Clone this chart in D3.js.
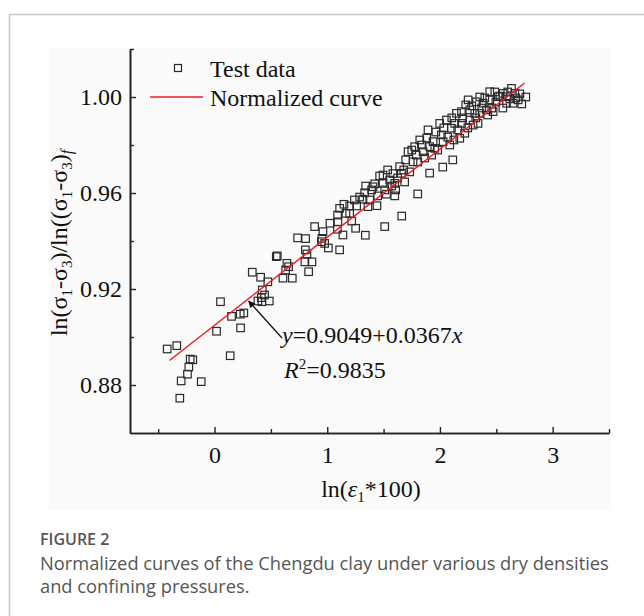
<!DOCTYPE html>
<html>
<head>
<meta charset="utf-8">
<script src="https://cdn.jsdelivr.net/npm/d3@7"></script>
<style>
  html, body { margin: 0; padding: 0; background: #fff; }
  svg { display: block; }
</style>
</head>
<body>
<svg id="fig" width="644" height="616"></svg>
<script>
// Test data: ln(eps1*100) vs normalised ln deviator stress
const xValues = [
  -0.420,-0.335,-0.216,-0.193,-0.228,-0.240,-0.296,-0.118,-0.308,0.139,
  0.018,0.053,0.151,0.228,0.260,0.231,0.335,0.409,0.473,0.424,
  0.415,0.420,0.385,0.486,0.444,0.548,0.607,0.557,0.642,0.657,
  0.631,0.690,0.737,0.808,0.806,0.820,0.802,0.864,0.835,0.888,
  0.962,0.953,0.948,0.977,1.010,1.024,1.110,1.090,1.095,1.092,
  1.110,1.139,1.166,1.199,1.217,1.252,1.338,1.148,1.241,1.317,
  1.332,1.377,1.361,1.441,1.406,1.421,1.495,1.510,1.525,1.510,
  1.583,1.599,1.607,1.661,1.495,1.554,1.643,1.658,1.717,1.776,
  1.791,1.761,1.836,1.850,1.909,1.894,1.939,1.954,1.998,2.013,
  2.028,2.087,2.058,2.102,2.131,2.147,2.191,2.191,2.220,2.176,
  2.265,2.265,2.309,2.294,2.353,2.338,2.250,2.324,2.383,2.413,
  2.442,2.472,2.442,2.516,2.560,2.591,2.635,2.664,2.591,2.649,
  2.694,1.803,1.909,2.025,2.114,
  1.465,1.536,1.572,1.625,1.679,1.696,1.732,1.750,1.803,1.821,
  1.865,1.883,1.927,1.963,1.980,2.034,2.069,2.105,2.123,2.158,
  2.202,2.229,2.247,2.282,2.318,2.371,2.398,2.424,2.460,2.496,
  2.531,2.558,2.602,2.620,2.673,2.709,2.726,2.762,2.353,2.487,
  1.687,1.599,1.394,1.448,1.341,1.288,1.261,1.199
];
const yValues = [
  0.8950,0.8964,0.8908,0.8905,0.8875,0.8845,0.8817,0.8814,0.8745,0.8922,
  0.9024,0.9147,0.9086,0.9095,0.9100,0.9038,0.9270,0.9249,0.9230,0.9196,
  0.9164,0.9147,0.9150,0.9150,0.9175,0.9335,0.9245,0.9338,0.9307,0.9293,
  0.9279,0.9245,0.9413,0.9410,0.9363,0.9346,0.9313,0.9313,0.9272,0.9460,
  0.9439,0.9411,0.9397,0.9390,0.9371,0.9474,0.9363,0.9449,0.9480,0.9508,
  0.9536,0.9425,0.9515,0.9515,0.9483,0.9453,0.9424,0.9553,0.9571,0.9574,
  0.9601,0.9571,0.9543,0.9547,0.9626,0.9638,0.9640,0.9613,0.9595,0.9460,
  0.9681,0.9640,0.9613,0.9504,0.9675,0.9654,0.9710,0.9682,0.9772,0.9793,
  0.9758,0.9730,0.9800,0.9772,0.9793,0.9863,0.9814,0.9786,0.9890,0.9842,
  0.9814,0.9800,0.9904,0.9870,0.9890,0.9932,0.9939,0.9890,0.9849,0.9828,
  0.9946,0.9904,0.9932,0.9883,0.9932,0.9890,0.9988,0.9980,0.9974,0.9946,
  0.9988,0.9939,1.0022,1.0001,1.0015,1.0001,1.0036,1.0015,0.9974,0.9974,
  0.9988,0.9596,0.9683,0.9708,0.9738,
  0.9671,0.9696,0.9629,0.9663,0.9696,0.9738,0.9688,0.9779,0.9729,0.9821,
  0.9746,0.9829,0.9758,0.9854,0.9779,0.9871,0.9833,0.9913,0.9821,0.9863,
  0.9913,0.9967,0.9871,0.9963,0.9913,0.9954,0.9996,0.9925,0.9954,0.9979,
  1.0004,0.9954,1.0021,0.9992,0.9996,1.0013,0.9971,1.0000,1.0000,1.0021,
  0.9646,0.9588,0.9613,0.9588,0.9629,0.9583,0.9546,0.9546
];

// Fitted normalised curve y = a + b x, drawn over this x-range
const fitIntercept = 0.9049;
const fitSlope = 0.0367;
const fitRange = [-0.40, 2.75];

const xMajorTicks = [0, 1, 2, 3];
const xMinorTicks = [-0.5, 0.5, 1.5, 2.5, 3.5];
const yMajorTicks = [0.88, 0.92, 0.96, 1.00];
const yMinorTicks = [0.90, 0.94, 0.98, 1.02];

const svg = d3.select("#fig");
const serif = "'Liberation Serif', 'Times New Roman', serif";
const sans = "'Open Sans', 'Noto Sans', sans-serif";
const fs = "24px";
const fsSub = "15px";

// card frame
svg.append("line").attr("x1", 9).attr("x2", 644).attr("y1", 14.5).attr("y2", 14.5)
  .attr("stroke", "#c8c8c8").attr("stroke-width", 1.5);
svg.append("line").attr("x1", 9.5).attr("x2", 9.5).attr("y1", 14).attr("y2", 616)
  .attr("stroke", "#c8c8c8").attr("stroke-width", 1.5);

// figure panel background
svg.append("rect").attr("x", 49).attr("y", 48).attr("width", 562).attr("height", 462)
  .attr("fill", "#fafafa");

const x = d3.scaleLinear().domain([-0.75, 3.5]).range([130, 609]);
const y = d3.scaleLinear().domain([0.86, 1.02]).range([433, 49]);

const axisColor = "#222";

function styleAxis(g) {
  g.selectAll("path.domain").attr("stroke", axisColor).attr("stroke-width", 1.6);
  g.selectAll(".tick line").attr("stroke", axisColor).attr("stroke-width", 1.4);
  g.selectAll(".tick text").attr("fill", "#111")
    .style("font-family", serif).style("font-size", fs);
}

// x axis
const gx = svg.append("g").attr("transform", `translate(0,${y(0.86)})`)
  .call(d3.axisBottom(x).tickValues(xMajorTicks).tickFormat(d3.format("d"))
    .tickSizeInner(-6).tickSizeOuter(0).tickPadding(13));
styleAxis(gx);
gx.selectAll(".tick text").attr("dy", "0.71em");
const gxm = svg.append("g").attr("transform", `translate(0,${y(0.86)})`)
  .call(d3.axisBottom(x).tickValues(xMinorTicks).tickFormat("")
    .tickSizeInner(-4).tickSizeOuter(0));
styleAxis(gxm);

// y axis
const gy = svg.append("g").attr("transform", `translate(${x(-0.75)},0)`)
  .call(d3.axisLeft(y).tickValues(yMajorTicks).tickFormat(d3.format(".2f"))
    .tickSizeInner(-6).tickSizeOuter(0).tickPadding(8));
styleAxis(gy);
const gym = svg.append("g").attr("transform", `translate(${x(-0.75)},0)`)
  .call(d3.axisLeft(y).tickValues(yMinorTicks).tickFormat("")
    .tickSizeInner(-4).tickSizeOuter(0));
styleAxis(gym);

// axis titles
const xt = svg.append("text").attr("x", 371).attr("y", 497)
  .attr("text-anchor", "middle").attr("fill", "#111")
  .style("font-family", serif).style("font-size", fs);
xt.append("tspan").text("ln(");
xt.append("tspan").style("font-style", "italic").text("ε");
xt.append("tspan").attr("dy", 5).style("font-size", fsSub).text("1");
xt.append("tspan").attr("dy", -5).text("*100)");

const yt = svg.append("text")
  .attr("transform", "translate(67,243) rotate(-90)")
  .attr("text-anchor", "middle").attr("fill", "#111")
  .style("font-family", serif).style("font-size", fs);
yt.append("tspan").text("ln(σ");
yt.append("tspan").attr("dy", 5).style("font-size", fsSub).text("1");
yt.append("tspan").attr("dy", -5).text("-σ");
yt.append("tspan").attr("dy", 5).style("font-size", fsSub).text("3");
yt.append("tspan").attr("dy", -5).text(")/ln((σ");
yt.append("tspan").attr("dy", 5).style("font-size", fsSub).text("1");
yt.append("tspan").attr("dy", -5).text("-σ");
yt.append("tspan").attr("dy", 5).style("font-size", fsSub).text("3");
yt.append("tspan").attr("dy", -5).text(")");
yt.append("tspan").attr("dy", 5).style("font-size", "16px").style("font-style", "italic").text("f");

// data points
const pts = xValues.map((v, i) => ({ x: v, y: yValues[i] }));
const sq = 7.5;
svg.append("g").selectAll("rect").data(pts).join("rect")
  .attr("x", d => x(d.x) - sq / 2).attr("y", d => y(d.y) - sq / 2)
  .attr("width", sq).attr("height", sq)
  .attr("fill", "none").attr("stroke", "#2a2a2a").attr("stroke-width", 1.2);

// fitted line
const line = d3.line().x(d => x(d)).y(d => y(fitIntercept + fitSlope * d));
svg.append("path").datum(fitRange).attr("d", line)
  .attr("fill", "none").attr("stroke", "#ee1c25").attr("stroke-width", 1.5);

// legend
svg.append("rect").attr("x", 174.5).attr("y", 64.5).attr("width", 7).attr("height", 7)
  .attr("fill", "none").attr("stroke", "#2a2a2a").attr("stroke-width", 1.2);
svg.append("text").attr("x", 210).attr("y", 77).attr("fill", "#111")
  .style("font-family", serif).style("font-size", fs).text("Test data");
svg.append("line").attr("x1", 150).attr("x2", 203).attr("y1", 97).attr("y2", 97)
  .attr("stroke", "#ee1c25").attr("stroke-width", 1.5);
svg.append("text").attr("x", 210).attr("y", 106).attr("fill", "#111")
  .style("font-family", serif).style("font-size", fs).text("Normalized curve");

// annotation with arrow to the fitted line
const defs = svg.append("defs");
defs.append("marker").attr("id", "arrowhead").attr("viewBox", "0 0 10 10")
  .attr("refX", 9).attr("refY", 5).attr("markerWidth", 9).attr("markerHeight", 7)
  .attr("markerUnits", "userSpaceOnUse").attr("orient", "auto")
  .append("path").attr("d", "M0,0 L10,5 L0,10 Z").attr("fill", "#111");
const tipX = 0.285;
svg.append("line")
  .attr("x1", 282).attr("y1", 338)
  .attr("x2", x(tipX) + 2).attr("y2", y(fitIntercept + fitSlope * tipX) + 1)
  .attr("stroke", "#111").attr("stroke-width", 1.3)
  .attr("marker-end", "url(#arrowhead)");

const eq = svg.append("text").attr("x", 282).attr("y", 343).attr("fill", "#111")
  .style("font-family", serif).style("font-size", fs);
eq.append("tspan").style("font-style", "italic").text("y");
eq.append("tspan").text(`=${fitIntercept.toFixed(4)}+${fitSlope.toFixed(4)}`);
eq.append("tspan").style("font-style", "italic").text("x");

const r2 = svg.append("text").attr("x", 284).attr("y", 378).attr("fill", "#111")
  .style("font-family", serif).style("font-size", fs);
r2.append("tspan").style("font-style", "italic").text("R");
r2.append("tspan").attr("dy", -9).style("font-size", fsSub).text("2");
r2.append("tspan").attr("dy", 9).text("=0.9835");

// caption
svg.append("text").attr("x", 40).attr("y", 545).attr("fill", "#555")
  .style("font-family", sans).style("font-size", "16px").style("font-weight", 600)
  .text("FIGURE 2");
svg.append("text").attr("x", 40).attr("y", 570).attr("fill", "#555")
  .style("font-family", sans).style("font-size", "18.3px")
  .text("Normalized curves of the Chengdu clay under various dry densities");
svg.append("text").attr("x", 40).attr("y", 593).attr("fill", "#555")
  .style("font-family", sans).style("font-size", "18.3px")
  .text("and confining pressures.");
</script>
</body>
</html>
